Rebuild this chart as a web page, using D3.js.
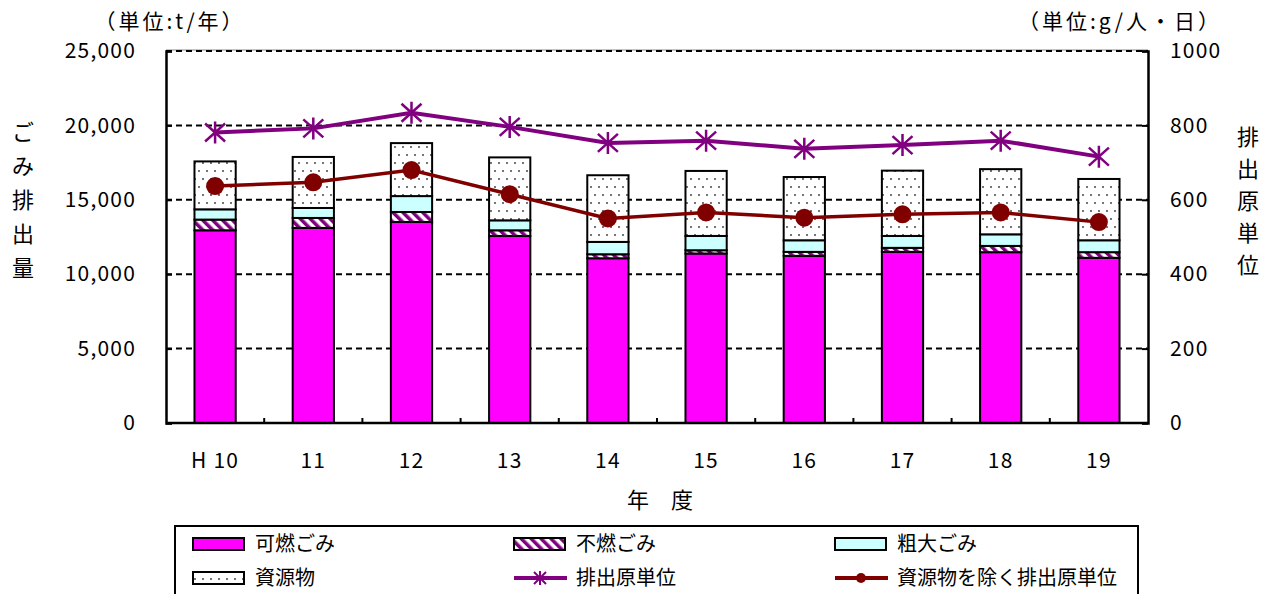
<!DOCTYPE html>
<html>
<head>
<meta charset="utf-8">
<script src="https://cdn.jsdelivr.net/npm/d3@7/dist/d3.min.js"></script>
<style>
  body { margin: 0; background: #fff; }
  svg text { font-family: "Noto Sans CJK JP", "Liberation Sans", sans-serif; fill: #000; }
</style>
</head>
<body>
<div id="chart-area"></div>
<script>
// ごみ排出量の推移

var width = 1272;
var height = 594;

var years = ["H 10", "11", "12", "13", "14", "15", "16", "17", "18", "19"];
var combustible = [12950, 13110, 13510, 12570, 11070, 11390, 11230, 11500, 11480, 11100];
var nonCombustible = [720, 670, 670, 380, 270, 220, 270, 270, 420, 380];
var bulky = [690, 670, 1070, 670, 830, 960, 780, 800, 780, 800];
var resources = [3220, 3430, 3560, 4230, 4480, 4370, 4250, 4390, 4380, 4120];
var perCapita = [781, 792, 834, 796, 753, 759, 737, 747, 759, 716];
var perCapitaExRes = [637, 647, 680, 615, 550, 566, 552, 561, 566, 540];

var leftTicks = [0, 5000, 10000, 15000, 20000, 25000];
var rightTicks = [0, 200, 400, 600, 800, 1000];

var seriesNames = ["可燃ごみ", "不燃ごみ", "粗大ごみ", "資源物"];
var seriesFills = ["#ff00ff", "url(#stripes)", "#ccffff", "url(#dots)"];

var plot = { left: 166, right: 1148, top: 51, bottom: 423 };

var svg = d3.select("#chart-area")
    .append("svg")
    .attr("width", width)
    .attr("height", height);

// patterns
var defs = svg.append("defs");
var stripes = defs.append("pattern")
    .attr("id", "stripes")
    .attr("patternUnits", "userSpaceOnUse")
    .attr("width", 7)
    .attr("height", 7)
    .attr("patternTransform", "rotate(-45)");
stripes.append("rect").attr("width", 7).attr("height", 7).attr("fill", "#fff");
stripes.append("rect").attr("width", 3.5).attr("height", 7).attr("fill", "#800080");

var dots = defs.append("pattern")
    .attr("id", "dots")
    .attr("patternUnits", "userSpaceOnUse")
    .attr("width", 16)
    .attr("height", 16);
dots.append("rect").attr("width", 16).attr("height", 16).attr("fill", "#fff");
[[3, 3], [11, 3], [7, 11], [15, 11]].forEach(function(p) {
    dots.append("circle").attr("cx", p[0]).attr("cy", p[1]).attr("r", 0.9).attr("fill", "#333");
});

var x = d3.scaleBand()
    .domain(years)
    .range([plot.left, plot.right])
    .paddingInner(0.58)
    .paddingOuter(0.29);

var yL = d3.scaleLinear().domain([0, 25000]).range([plot.bottom, plot.top]);
var yR = d3.scaleLinear().domain([0, 1000]).range([plot.bottom, plot.top]);

// top border + gridlines
svg.append("line")
    .attr("x1", plot.left).attr("x2", plot.right)
    .attr("y1", plot.top - 1).attr("y2", plot.top - 1)
    .attr("stroke", "#888").attr("stroke-width", 1);

svg.selectAll(".grid")
    .data(leftTicks.slice(1))
    .enter()
    .append("line")
    .attr("class", "grid")
    .attr("x1", plot.left).attr("x2", plot.right)
    .attr("y1", function(d) { return yL(d); })
    .attr("y2", function(d) { return yL(d); })
    .attr("stroke", "#000")
    .attr("stroke-width", 2)
    .attr("stroke-dasharray", "6,4");

// stacked bars
var rows = years.map(function(yr, i) {
    return { year: yr, a: combustible[i], b: nonCombustible[i], c: bulky[i], d: resources[i] };
});
var stack = d3.stack().keys(["a", "b", "c", "d"]);
var layers = stack(rows);

svg.selectAll(".layer")
    .data(layers)
    .enter()
    .append("g")
    .attr("class", "layer")
    .attr("fill", function(d, i) { return seriesFills[i]; })
    .selectAll("rect")
    .data(function(d) { return d; })
    .enter()
    .append("rect")
    .attr("x", function(d) { return x(d.data.year); })
    .attr("width", x.bandwidth())
    .attr("y", function(d) { return yL(d[1]); })
    .attr("height", function(d) { return yL(d[0]) - yL(d[1]); })
    .attr("stroke", "#000")
    .attr("stroke-width", 2);

// axes
svg.append("g")
    .attr("transform", "translate(" + plot.left + ",0)")
    .call(d3.axisLeft(yL).tickValues(leftTicks).tickSize(-6).tickPadding(30).tickFormat(d3.format(",")))
    .call(function(g) {
        g.select(".domain").attr("stroke-width", 2.5);
        g.selectAll(".tick line").attr("stroke-width", 2);
        g.selectAll("text").attr("font-size", 21).attr("letter-spacing", 1.2).attr("font-family", "Liberation Sans");
    });

svg.append("g")
    .attr("transform", "translate(" + plot.right + ",0)")
    .call(d3.axisRight(yR).tickValues(rightTicks).tickSize(-6).tickPadding(22).tickFormat(d3.format("d")))
    .call(function(g) {
        g.select(".domain").attr("stroke-width", 2.5);
        g.selectAll(".tick line").attr("stroke-width", 2);
        g.selectAll("text").attr("font-size", 21).attr("letter-spacing", 1.2).attr("font-family", "Liberation Sans");
    });

var xTicks = d3.range(1, years.length).map(function(i) { return x(years[i]) - x.step() * x.paddingInner() / 2; });
svg.append("line")
    .attr("x1", plot.left).attr("x2", plot.right)
    .attr("y1", plot.bottom).attr("y2", plot.bottom)
    .attr("stroke", "#000").attr("stroke-width", 2.5);
svg.selectAll(".xtick")
    .data(xTicks)
    .enter()
    .append("line")
    .attr("x1", function(d) { return d; }).attr("x2", function(d) { return d; })
    .attr("y1", plot.bottom).attr("y2", plot.bottom - 5)
    .attr("stroke", "#000").attr("stroke-width", 2);

svg.selectAll(".xlabel")
    .data(years)
    .enter()
    .append("text")
    .attr("x", function(d) { return x(d) + x.bandwidth() / 2; })
    .attr("y", 468)
    .attr("text-anchor", "middle")
    .attr("font-size", 21)
    .attr("letter-spacing", 1.2)
    .attr("font-family", "Liberation Sans")
    .text(function(d) { return d; });

// lines
var cx = function(d, i) { return x(years[i]) + x.bandwidth() / 2; };

svg.append("path")
    .datum(perCapita)
    .attr("fill", "none")
    .attr("stroke", "#800080")
    .attr("stroke-width", 4)
    .attr("d", d3.line().x(cx).y(function(d) { return yR(d); }));

var star = "M0,-11V11M-10,-9L10,9M-10,9L10,-9";
svg.selectAll(".star")
    .data(perCapita)
    .enter()
    .append("path")
    .attr("transform", function(d, i) { return "translate(" + cx(d, i) + "," + yR(d) + ")"; })
    .attr("d", star)
    .attr("stroke", "#800080")
    .attr("stroke-width", 2.5)
    .attr("fill", "none");

svg.append("path")
    .datum(perCapitaExRes)
    .attr("fill", "none")
    .attr("stroke", "#800000")
    .attr("stroke-width", 3.5)
    .attr("d", d3.line().x(cx).y(function(d) { return yR(d); }));

svg.selectAll(".dot")
    .data(perCapitaExRes)
    .enter()
    .append("circle")
    .attr("cx", cx)
    .attr("cy", function(d) { return yR(d); })
    .attr("r", 9)
    .attr("fill", "#800000");

// titles
svg.append("text").attr("x", 170).attr("y", 29).attr("text-anchor", "middle")
    .attr("font-size", 21).attr("letter-spacing", 3).text("（単位:t/年）");
svg.append("text").attr("x", 1120).attr("y", 29).attr("text-anchor", "middle")
    .attr("font-size", 21).attr("letter-spacing", 3).text("（単位:g/人・日）");

var leftTitle = ["ご", "み", "排", "出", "量"];
svg.selectAll(".ltitle")
    .data(leftTitle)
    .enter()
    .append("text")
    .attr("x", 23)
    .attr("y", function(d, i) { return 140 + i * 34; })
    .attr("text-anchor", "middle")
    .attr("font-size", 22)
    .text(function(d) { return d; });

var rightTitle = ["排", "出", "原", "単", "位"];
svg.selectAll(".rtitle")
    .data(rightTitle)
    .enter()
    .append("text")
    .attr("x", 1248)
    .attr("y", function(d, i) { return 145 + i * 32; })
    .attr("text-anchor", "middle")
    .attr("font-size", 22)
    .text(function(d) { return d; });

svg.append("text").attr("x", 660).attr("y", 508).attr("text-anchor", "middle")
    .attr("font-size", 22).text("年\u3000度");

// legend
var legend = svg.append("g");
legend.append("rect")
    .attr("x", 175).attr("y", 526)
    .attr("width", 963).attr("height", 80)
    .attr("fill", "#fff").attr("stroke", "#000").attr("stroke-width", 2);

var legendItems = [
    { name: seriesNames[0], type: "box", fill: seriesFills[0], col: 0, row: 0 },
    { name: seriesNames[1], type: "box", fill: seriesFills[1], col: 1, row: 0 },
    { name: seriesNames[2], type: "box", fill: seriesFills[2], col: 2, row: 0 },
    { name: seriesNames[3], type: "box", fill: seriesFills[3], col: 0, row: 1 },
    { name: "排出原単位", type: "star", color: "#800080", col: 1, row: 1 },
    { name: "資源物を除く排出原単位", type: "dot", color: "#800000", col: 2, row: 1 }
];
var colX = [193, 514, 835];
var rowY = [544, 578];

legendItems.forEach(function(it) {
    var lx = colX[it.col], ly = rowY[it.row];
    if (it.type === "box") {
        legend.append("rect").attr("x", lx).attr("y", ly - 6).attr("width", 51).attr("height", 12)
            .attr("fill", it.fill).attr("stroke", "#000").attr("stroke-width", 2);
    } else {
        legend.append("line").attr("x1", lx).attr("x2", lx + 53).attr("y1", ly).attr("y2", ly)
            .attr("stroke", it.color).attr("stroke-width", 4);
        if (it.type === "star") {
            legend.append("path").attr("transform", "translate(" + (lx + 26) + "," + ly + ")")
                .attr("d", "M0,-7V7M-6,-6L6,6M-6,6L6,-6")
                .attr("stroke", it.color).attr("stroke-width", 2).attr("fill", "none");
        } else {
            legend.append("circle").attr("cx", lx + 26).attr("cy", ly).attr("r", 5).attr("fill", it.color);
        }
    }
    legend.append("text").attr("x", lx + 62).attr("y", ly + 7)
        .attr("font-size", 20).text(it.name);
});
</script>
</body>
</html>
